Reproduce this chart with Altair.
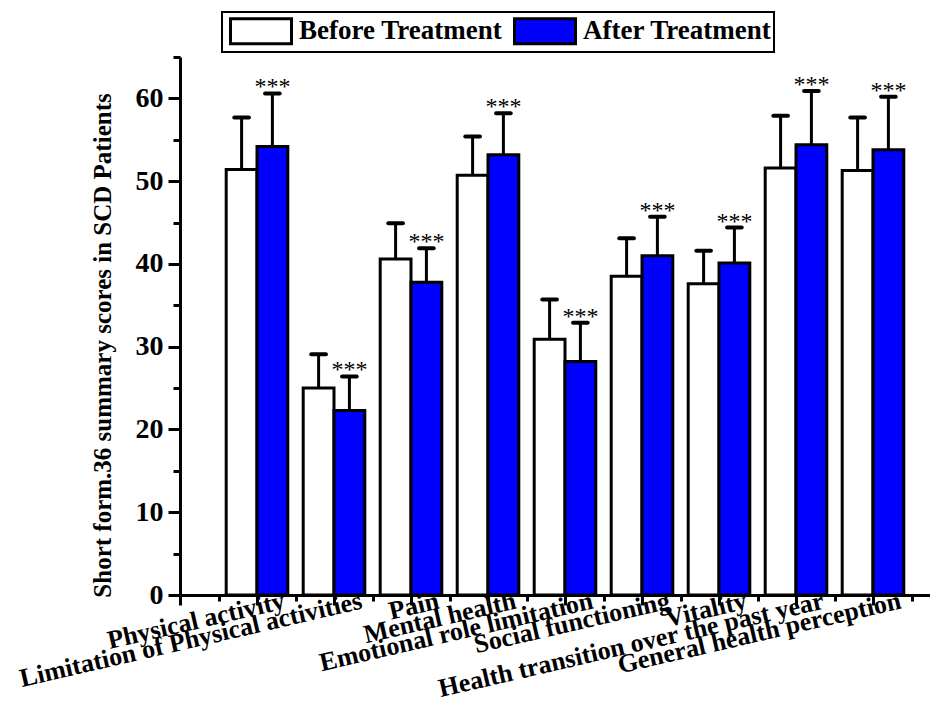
import json
import altair as alt
import pandas as pd

categories = [
    "Physical activity",
    "Limitation of Physical activities",
    "Pain",
    "Mental health",
    "Emotional role limitation",
    "Social functioning",
    "Vitality",
    "Health transition over the past year",
    "General health perception",
]
groups = ["Before Treatment", "After Treatment"]
before_mean = [51.4, 25.0, 40.6, 50.7, 30.9, 38.5, 37.6, 51.6, 51.3]
before_sd = [6.3, 4.1, 4.3, 4.7, 4.8, 4.6, 4.0, 6.3, 6.4]
after_mean = [54.2, 22.3, 37.8, 53.2, 28.2, 41.0, 40.1, 54.4, 53.8]
after_sd = [6.4, 4.1, 4.1, 5.0, 4.7, 4.7, 4.3, 6.5, 6.4]
significance = ["***", "***", "***", "***", "***", "***", "***", "***", "***"]
y_ticks = [0, 5, 10, 15, 20, 25, 30, 35, 40, 45, 50, 55, 60, 65]
x_ticks = [k / 2 for k in range(0, 2 * len(categories) + 2)]
y_title = "Short form.36 summary scores in SCD Patients"

rows = []
for i, c in enumerate(categories):
    rows.append(dict(category=c, idx=i + 1, grp=groups[0], mean=before_mean[i], sd=before_sd[i], sig=""))
    rows.append(dict(category=c, idx=i + 1, grp=groups[1], mean=after_mean[i], sd=after_sd[i], sig=significance[i]))
df = pd.DataFrame(rows)

FONT = "Liberation Serif"
names_js = json.dumps([""] + categories)

xscale = alt.Scale(domain=[0, 750 / 77], nice=False, zero=False)
yscale = alt.Scale(domain=[0, 65], nice=False)

xaxis = alt.Axis(
    values=x_ticks,
    labelExpr=f"(datum.value % 1 === 0 && datum.value >= 1) ? {names_js}[datum.value] : ''",
    labelAngle=347, labelAlign="right", labelBaseline="middle",
    labelOffset=27, labelPadding=-5, labelOverlap=False, labelBound=False, labelFlush=False,
    labelLimit=0,
    tickSize={"condition": {"test": "datum.value % 1 === 0", "value": 10}, "value": 6},
    domainWidth=3, tickWidth=3, labelFont=FONT, labelFontSize=26, labelFontWeight="bold",
    title=None, grid=False,
)
yaxis = alt.Axis(
    values=y_ticks,
    labelExpr="datum.value % 10 === 0 ? datum.label : ''",
    tickSize={"condition": {"test": "datum.value % 10 === 0", "value": 12}, "value": 7},
    labelPadding=5, labelOverlap=False, labelFont=FONT, labelFontSize=28, labelFontWeight="bold",
    domainWidth=3, tickWidth=3, grid=False,
    title=y_title, titleFont=FONT, titleFontSize=25, titleFontWeight="bold",
    titleAngle=270, titleX=-70, titleY=288, titleAlign="center", titleBaseline="alphabetic",
    titleLimit=0,
)

base = alt.Chart(df).transform_calculate(
    side="datum.grp === 'Before Treatment' ? -1 : 1",
).transform_calculate(
    xl="datum.side < 0 ? datum.idx - 0.4 : datum.idx",
    xr="datum.side < 0 ? datum.idx : datum.idx + 0.4",
    xc="datum.idx + 0.2 * datum.side",
    top="datum.mean + datum.sd",
).transform_calculate(
    capl="datum.xc - 0.095",
    capr="datum.xc + 0.095",
)

legend = alt.Legend(
    orient="none", legendX=42, legendY=-45, direction="horizontal", title=None,
    symbolType="M-2,-0.82H2V0.82H-2Z", symbolSize=930, symbolStrokeWidth=3,
    symbolStrokeColor="black", symbolOffset=20, labelOffset=21, labelLimit=0,
    labelFont=FONT, labelFontSize=27, labelFontWeight="bold", labelColor="black",
    strokeColor="black", padding=2, columnPadding=5,
)

bars = base.mark_bar(stroke="black", strokeWidth=3).encode(
    x=alt.X("xl:Q", scale=xscale, axis=xaxis),
    x2="xr:Q",
    y=alt.Y("mean:Q", scale=yscale, axis=yaxis),
    y2=alt.datum(0),
    fill=alt.Fill("grp:N", scale=alt.Scale(domain=groups, range=["white", "#0000FF"]), legend=legend),
)
err = base.mark_rule(strokeWidth=3, color="black").encode(
    x=alt.X("xc:Q", scale=xscale, axis=xaxis),
    y=alt.Y("mean:Q", scale=yscale, axis=yaxis),
    y2="top:Q",
)
caps = base.mark_rule(strokeWidth=4, color="black", strokeCap="round").encode(
    x=alt.X("capl:Q", scale=xscale, axis=xaxis),
    x2="capr:Q",
    y=alt.Y("top:Q", scale=yscale, axis=yaxis),
)
stars = base.transform_filter("datum.sig !== ''").mark_text(
    font=FONT, fontSize=24, baseline="alphabetic", dy=1, color="black"
).encode(
    x=alt.X("xc:Q", scale=xscale, axis=xaxis),
    y=alt.Y("top:Q", scale=yscale, axis=yaxis),
    text="sig:N",
)

chart = alt.layer(bars, err, caps, stars).properties(
    width=750, height=538,
    padding={"left": 172, "top": 49, "right": 0, "bottom": 110},
    autosize="none",
).configure_view(stroke=None).configure_axis(
    domainColor="black", tickColor="black", labelColor="black", titleColor="black"
).configure_legend(strokeWidth=2)

chart.save("out.html", embed_options={"renderer": "svg", "actions": False})
